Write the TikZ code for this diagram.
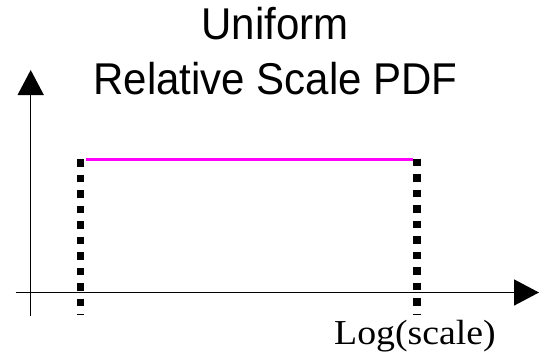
\documentclass[tikz,border=0pt]{standalone}
\usepackage{fontspec}
\setmainfont{Liberation Serif}
\newfontfamily\titlefont{Liberation Sans}
\usetikzlibrary{arrows.meta}
\definecolor{pdfmagenta}{RGB}{255,0,255}
\begin{document}
\begin{tikzpicture}[x=1pt,y=1pt,
  axisline/.style={line width=1.5pt,-{Triangle[length=25pt,width=26pt]}},
  boundline/.style={line width=7.6pt,dash pattern=on 7.6pt off 7.9pt},
  pdfline/.style={line width=3pt,pdfmagenta},
  titletext/.style={font=\titlefont\fontsize{42}{42}\selectfont,anchor=base,inner sep=0pt},
  labeltext/.style={font=\fontsize{35}{35}\selectfont,anchor=base,inner sep=0pt}]
\useasboundingbox (0,0) rectangle (543,357);
% axes
\coordinate (yfrom) at (30.7,41);
\coordinate (yto) at (30.7,287);
\coordinate (xfrom) at (15.5,64.5);
\coordinate (xto) at (539,64.5);
\draw[axisline] (yfrom) -- (yto);
\draw[axisline] (xfrom) -- (xto);
% bounds
\coordinate (ltop) at (80.5,198);
\coordinate (lbot) at (80.5,42);
\coordinate (rtop) at (417,198.5);
\coordinate (rbot) at (417,42.5);
\draw[boundline] (ltop) -- (lbot);
\draw[boundline] (rtop) -- (rbot);
% pdf
\coordinate (pleft) at (86,198);
\coordinate (pright) at (413,198);
\draw[pdfline] (pleft) -- (pright);
% texts
\node[titletext] (t1) at (275,317.5) {\scalebox{1}[1.06]{Uniform}};
\node[titletext] (t2) at (275.5,263) {\scalebox{1}[1.06]{Relative Scale PDF}};
\node[labeltext] (xl) at (415,13) {\scalebox{1.08}[1]{Log(scale)}};
\end{tikzpicture}
\end{document}
